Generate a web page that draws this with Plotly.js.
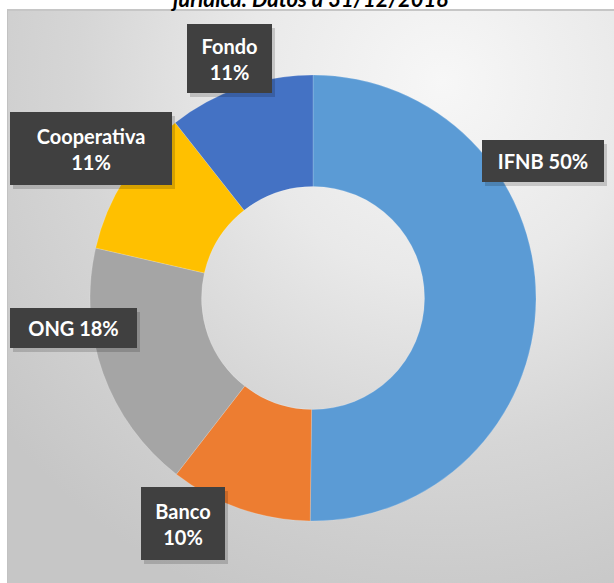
<!DOCTYPE html>
<html><head><meta charset="utf-8">
<script src="https://cdn.plot.ly/plotly-3.0.1.min.js"></script>
<style>
html,body{margin:0;padding:0;background:#ffffff;overflow:hidden;width:614px;height:583px}
#panel{position:absolute;left:7px;top:9px;width:620px;height:590px;
  border-left:1px solid #c2c2c2;border-top:2px solid #c6c6c6;
  background:radial-gradient(ellipse 90% 95% at 70% 12%, #f7f7f7 0%, #e9e9e9 35%, #d6d6d6 65%, #c6c6c6 100%);}
#chart{position:absolute;left:0;top:0;width:614px;height:583px}
</style></head><body>
<div id="panel"></div><div id="chart"></div>
<script>
// ---- data ----
const categories = ['IFNB', 'Banco', 'ONG', 'Cooperativa', 'Fondo'];
const values = [50.2, 10.3, 18.1, 10.8, 10.6];
const sliceColors = ['#5B9BD5', '#ED7D31', '#A5A5A5', '#FFC000', '#4472C4'];
const titleText = 'jurídica. Datos a 31/12/2018';

// ---- layout of the label boxes (pixels, center + size) ----
const W = 614, H = 583;
const labelBoxes = [
  {cx: 543, cy: 161, w: 122, h: 42, twoLine: false},
  {cx: 183, cy: 523, w: 84, h: 73, twoLine: true},
  {cx: 73.5, cy: 328, w: 127, h: 40, twoLine: false},
  {cx: 91, cy: 148, w: 162, h: 73, twoLine: true},
  {cx: 229.5, cy: 58.5, w: 85, h: 69, twoLine: true}
];

const total = values.reduce((a, b) => a + b, 0);
const pctText = values.map(v => Math.round(v / total * 100) + '%');

const center = {x: 313, y: 298}, R = 223;

const trace = {
  type: 'pie',
  labels: categories,
  values: values,
  sort: false,
  direction: 'clockwise',
  rotation: 0,
  hole: 0.5,
  textinfo: 'none',
  hoverinfo: 'label+percent',
  marker: {colors: sliceColors, line: {color: 'rgba(255,255,255,0.35)', width: 0.5}},
  domain: {
    x: [(center.x - R) / W, (center.x + R) / W],
    y: [(H - center.y - R) / H, (H - center.y + R) / H]
  },
  showlegend: false
};

const annotations = [];
categories.forEach((c, i) => {
  const b = labelBoxes[i];
  const txt = c + (b.twoLine ? '<br>' : ' ') + pctText[i];
  // shadow
  annotations.push({
    xref: 'paper', yref: 'paper', x: b.cx / W, y: 1 - b.cy / H,
    xanchor: 'center', yanchor: 'middle', xshift: 3, yshift: -4,
    text: ' ', showarrow: false, width: b.w, height: b.h,
    bgcolor: 'rgba(0,0,0,0.16)', borderpad: 0, borderwidth: 0
  });
  annotations.push({
    xref: 'paper', yref: 'paper', x: b.cx / W, y: 1 - b.cy / H,
    xanchor: 'center', yanchor: 'middle',
    text: '<b>' + txt + '</b>', showarrow: false, width: b.w, height: b.h,
    align: 'center', valign: 'middle',
    bgcolor: '#404040', borderpad: 0, borderwidth: 0,
    font: {family: 'Lato, "Open Sans", sans-serif', size: 20, color: '#ffffff'}
  });
});

const layout = {
  width: W, height: H,
  margin: {l: 0, r: 0, t: 0, b: 0},
  paper_bgcolor: 'rgba(0,0,0,0)',
  plot_bgcolor: 'rgba(0,0,0,0)',
  title: {
    text: '<b><i>' + titleText + '</i></b>',
    x: 311 / W, xanchor: 'center', xref: 'paper',
    y: 1 - 7 / H, yref: 'container', yanchor: 'bottom',
    font: {family: 'Lato, "Open Sans", sans-serif', size: 22, color: '#000000'}
  },
  annotations: annotations
};

Plotly.newPlot('chart', [trace], layout, {displayModeBar: false, staticPlot: true});
</script>
</body></html>
